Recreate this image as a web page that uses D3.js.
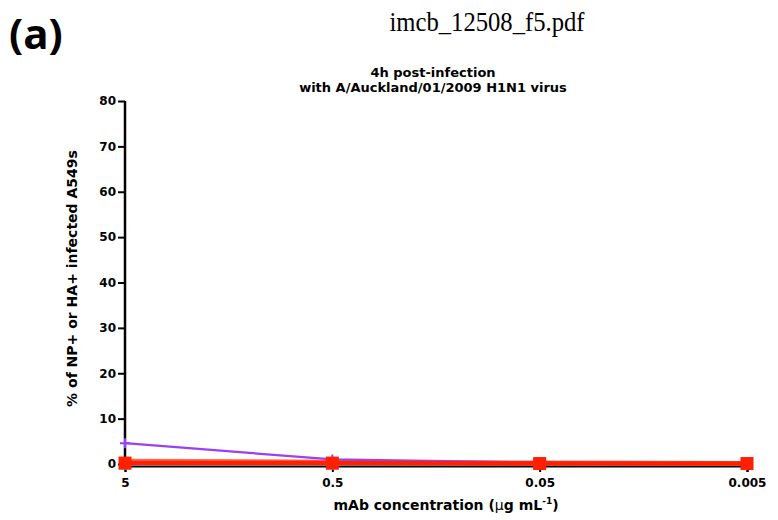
<!DOCTYPE html>
<html>
<head>
<meta charset="utf-8">
<script src="https://cdn.jsdelivr.net/npm/d3@7"></script>
<style>
  body { margin: 0; background: #fff; }
</style>
</head>
<body>
<div id="chart"></div>
<script>
// concentrations on the x axis (ug/mL)
var concentrations = [5, 0.5, 0.05, 0.005];
var concLabels = ["5", "0.5", "0.05", "0.005"];
var yTicks = [0, 10, 20, 30, 40, 50, 60, 70, 80];

// series values (% infected cells)
var bluePts = [0.1, 0.1, 0.1, 0.1];
var pinkPts = [0.6, 0.4, 0.2, 0.1];
var purplePts = [4.6, 1.0, 0.3, 0.2];
var redPts = [0.2, 0.2, 0.1, 0.1];

var width = 778, height = 520;
var margin = { top: 101, left: 125, right: 31, bottom: 56 };
var chartFont = "'DejaVu Sans', Verdana, sans-serif";

var svg = d3.select("#chart").append("svg")
    .attr("width", width)
    .attr("height", height)
    .style("font-family", chartFont);

//file name header and panel letter
svg.append("text")
    .attr("transform", "translate(487,31) scale(0.88,1)")
    .attr("text-anchor", "middle")
    .style("font-family", "'Liberation Serif', serif")
    .attr("font-size", "28px")
    .text("imcb_12508_f5.pdf");

svg.append("text")
    .attr("x", 9).attr("y", 49)
    .style("font-family", "'Open Sans', Lato, sans-serif")
    .attr("font-weight", "bold")
    .attr("font-size", "42px")
    .text("(a)");

//chart title
var title = svg.append("text")
    .attr("text-anchor", "middle")
    .attr("font-weight", "bold")
    .attr("font-size", "13px");
title.append("tspan").attr("x", 433).attr("y", 77).text("4h post-infection");
title.append("tspan").attr("x", 433).attr("y", 92).text("with A/Auckland/01/2009 H1N1 virus");

var x = d3.scaleLog()
    .domain([5, 0.005])
    .range([margin.left, width - margin.right]);

var y = d3.scaleLinear()
    .domain([0, 80])
    .range([height - margin.bottom, margin.top]);

//y axis
var yAxis = svg.append("g")
    .attr("transform", `translate(${margin.left},0)`)
    .call(d3.axisLeft(y).tickValues(yTicks).tickSize(7).tickPadding(2).tickFormat(d3.format("d")));
yAxis.select(".domain").attr("stroke", "#000").attr("stroke-width", 2.5).attr("d", `M0,${y(80)}V${y(0) + 4}`);
yAxis.selectAll(".tick line").attr("stroke-width", 2);
yAxis.selectAll(".tick text")
    .attr("font-size", "12px")
    .attr("font-weight", "bold")
    .attr("fill", "#000")
    .style("font-family", chartFont);

//x axis (line sits under the data)
var xAxis = svg.append("g")
    .attr("transform", `translate(0,${y(0) + 2})`)
    .call(d3.axisBottom(x).tickValues(concentrations).tickSize(6).tickPadding(6)
        .tickFormat(function (d, i) { return concLabels[i]; }));
xAxis.select(".domain").attr("stroke", "#000").attr("stroke-width", 2);
xAxis.selectAll(".tick line").attr("stroke-width", 2);
xAxis.selectAll(".tick text")
    .attr("font-size", "12px")
    .attr("font-weight", "bold")
    .attr("fill", "#000")
    .style("font-family", chartFont);

//axis labels
svg.append("text")
    .attr("transform", `translate(77,${(y(0) + y(80)) / 2 - 4}) rotate(-90)`)
    .attr("text-anchor", "middle")
    .attr("font-weight", "bold")
    .attr("font-size", "14px")
    .text("% of NP+ or HA+ infected A549s");

var xl = svg.append("text")
    .attr("x", 446).attr("y", 510)
    .attr("text-anchor", "middle")
    .attr("font-weight", "bold")
    .attr("font-size", "14px");
xl.append("tspan").text("mAb concentration (");
xl.append("tspan").attr("font-weight", "normal").text("\u03bc");
xl.append("tspan").text("g mL");
xl.append("tspan").attr("font-size", "9px").attr("dy", "-6").text("-1");
xl.append("tspan").attr("dy", "6").text(")");

var line = d3.line()
    .x(function (d, i) { return x(concentrations[i]); })
    .y(function (d) { return y(d); });

//series
var series = [
    { name: "blue", values: bluePts, color: "#5fb6ea", width: 3, marker: "square", size: 12 },
    { name: "pink", values: pinkPts, color: "#ff6650", width: 5, marker: "none", size: 0 },
    { name: "purple", values: purplePts, color: "#9b3ff2", width: 2.2, marker: "plus", size: 10 },
    { name: "red", values: redPts, color: "#ff2000", width: 4.5, marker: "square", size: 13 }
];

series.forEach(function (s) {
    svg.append("path")
        .datum(s.values)
        .attr("fill", "none")
        .attr("stroke", s.color)
        .attr("stroke-width", s.width)
        .attr("d", line);

    if (s.marker == "square") {
        svg.selectAll(".m-" + s.name)
            .data(s.values)
            .enter().append("rect")
            .attr("class", "m-" + s.name)
            .attr("x", function (d, i) { return x(concentrations[i]) - s.size / 2; })
            .attr("y", function (d) { return y(d) - s.size / 2; })
            .attr("width", s.size)
            .attr("height", s.size)
            .attr("fill", s.color);
    }
    else if (s.marker == "plus") {
        svg.selectAll(".m-" + s.name)
            .data(s.values)
            .enter().append("path")
            .attr("class", "m-" + s.name)
            .attr("d", function (d, i) {
                var cx = x(concentrations[i]), cy = y(d), h = s.size / 2;
                return `M${cx - h},${cy}H${cx + h}M${cx},${cy - h}V${cy + h}`;
            })
            .attr("stroke", s.color)
            .attr("stroke-width", 2);
    }
});
</script>
</body>
</html>
